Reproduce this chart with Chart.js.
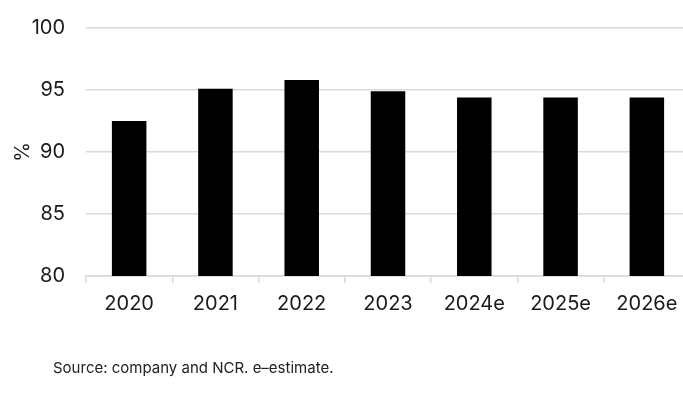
<!DOCTYPE html>
<html>
<head>
<meta charset="utf-8">
<script src="https://cdn.jsdelivr.net/npm/chart.js@4"></script>
<style>
  html, body { margin: 0; padding: 0; background: #fff; overflow: hidden; }
  #wrap { position: relative; width: 683px; height: 401px; overflow: hidden; }
  #chart { position: absolute; left: 0; top: 0; }
  #source { position: absolute; left: 53px; top: 358px; font: 15px Inter, "Noto Sans", sans-serif; color: #222; white-space: nowrap; }
</style>
</head>
<body>
<div id="wrap">
  <canvas id="chart" width="690" height="401"></canvas>
  <div id="source">Source: company and NCR. e–estimate.</div>
</div>
<script>
const years = ['2020', '2021', '2022', '2023', '2024e', '2025e', '2026e'];
const share = [92.5, 95.1, 95.8, 94.9, 94.4, 94.4, 94.4];
const yTicks = [80, 85, 90, 95, 100];

const gridColor = '#d9d9d9';
const textColor = '#1a1a1a';
const font = { family: 'Inter, "Noto Sans", sans-serif', size: 20 };

const canvas = document.getElementById('chart');
canvas.style.width = '690px';
canvas.style.height = '401px';

new Chart(canvas, {
  type: 'bar',
  data: {
    labels: years,
    datasets: [{
      data: share,
      backgroundColor: '#000',
      borderWidth: 0,
      barPercentage: 0.4,
      categoryPercentage: 1
    }]
  },
  options: {
    responsive: false,
    animation: false,
    layout: { padding: { top: 28, right: 0, bottom: 76, left: 0 } },
    plugins: { legend: { display: false }, tooltip: { enabled: false } },
    scales: {
      x: {
        grid: { drawOnChartArea: false, drawTicks: true, tickLength: 7, color: gridColor, lineWidth: 1.5 },
        border: { display: true, color: gridColor, width: 1.5 },
        ticks: { color: textColor, font, padding: 9, maxRotation: 0 }
      },
      y: {
        min: yTicks[0],
        max: yTicks[yTicks.length - 1],
        afterBuildTicks: scale => { scale.ticks = yTicks.map(v => ({ value: v })); },
        // fixed axis width, and keep the top label from pushing the plot down
        afterFit: scale => {
          scale.width = 86;
          scale.paddingTop = 0;
          scale.paddingBottom = 0;
        },
        grid: { color: gridColor, lineWidth: 1.5, drawTicks: false },
        border: { display: false },
        ticks: { color: textColor, font, padding: 21 },
        title: { display: true, text: '%', color: textColor, font, padding: { top: 11, bottom: 0 } }
      }
    }
  }
});
</script>
</body>
</html>
